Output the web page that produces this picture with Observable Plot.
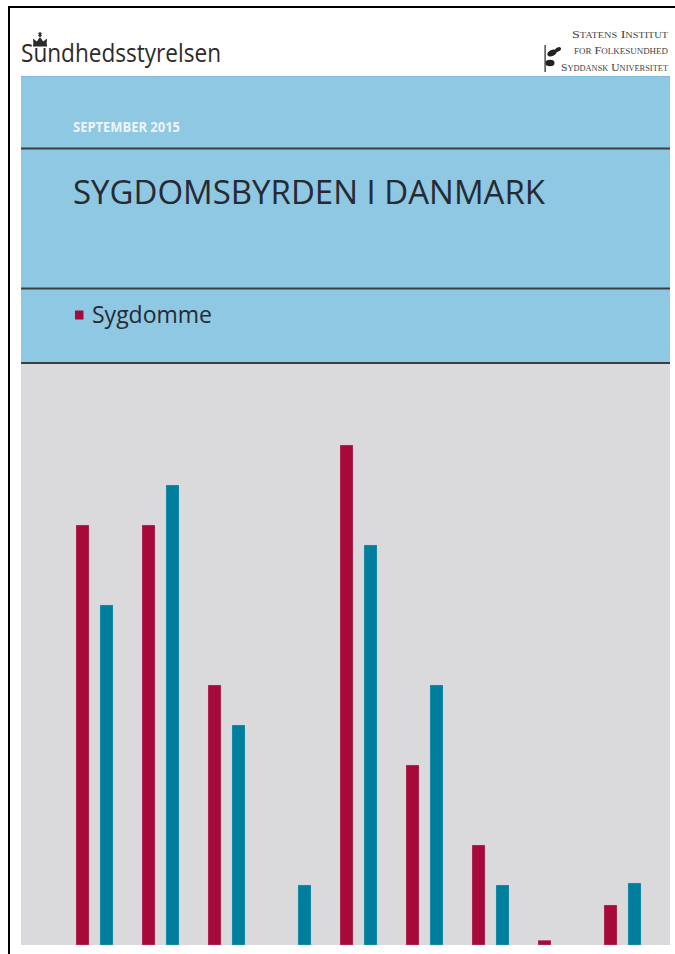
<!DOCTYPE html>
<html>
<head>
<meta charset="utf-8">
<script src="https://cdn.jsdelivr.net/npm/d3@7"></script>
<script src="https://cdn.jsdelivr.net/npm/@observablehq/plot@0.6"></script>
<style>
  html, body { margin: 0; padding: 0; background: #fff; }
  #page { position: relative; width: 675px; height: 954px; overflow: hidden; background: #fff; }
  #header { position: absolute; left: 0; top: 0; }
  #chart { position: absolute; left: 21px; top: 364px; }
  #frameTop { position: absolute; left: 8px; top: 5.5px; width: 667px; height: 2.5px; background: #000; }
  #frameLeft { position: absolute; left: 7.5px; top: 5.5px; width: 2.5px; height: 949px; background: #000; }
</style>
</head>
<body>
<div id="page">
  <svg id="header" width="675" height="364" xmlns="http://www.w3.org/2000/svg">
    <!-- blue panel -->
    <rect x="21" y="76" width="649" height="288" fill="#8EC8E2"/>
    <line x1="21" x2="670" y1="76.5" y2="76.5" stroke="#7fbcd8" stroke-width="1"/>
    <line x1="21" x2="670" y1="148.5" y2="148.5" stroke="#3a3d42" stroke-width="2"/>
    <line x1="21" x2="670" y1="288.5" y2="288.5" stroke="#3a3d42" stroke-width="2"/>
    <line x1="21" x2="670" y1="363" y2="363" stroke="#3a3d42" stroke-width="2"/>
    <!-- Sundhedsstyrelsen logo -->
    <g fill="#2b2b2b">
      <path d="M33.5 45.5 L33 38.5 L36.8 41.5 L40 37 L43.2 41.5 L47 38.5 L46.5 45.5 Z"/>
      <rect x="33" y="44.5" width="14" height="2"/>
      <circle cx="40" cy="35.3" r="1.6"/>
      <rect x="39.4" y="32" width="1.2" height="3"/>
      <rect x="38.3" y="32.9" width="3.4" height="1"/>
    </g>
    <text x="21" y="62" font-family="'Open Sans', Lato, sans-serif" font-size="25" fill="#2b2b2b" textLength="200" lengthAdjust="spacingAndGlyphs">Sundhedsstyrelsen</text>
    <!-- SIF / SDU logo -->
    <g font-family="'Liberation Serif', 'DejaVu Serif', serif" fill="#3f3f3f" style="font-variant: small-caps" text-anchor="end">
      <text x="668" y="38" font-size="11" textLength="96" lengthAdjust="spacingAndGlyphs">Statens Institut</text>
      <text x="668" y="53.5" font-size="11" textLength="94" lengthAdjust="spacingAndGlyphs">for Folkesundhed</text>
      <text x="668" y="71" font-size="11" textLength="107" lengthAdjust="spacingAndGlyphs">Syddansk Universitet</text>
    </g>
    <g fill="#222">
      <rect x="544.5" y="45" width="1.2" height="27"/>
      <ellipse cx="552" cy="53" rx="5" ry="3" transform="rotate(-25 552 53)"/>
      <ellipse cx="558" cy="49.5" rx="3.2" ry="2" transform="rotate(-30 558 49.5)"/>
      <ellipse cx="550" cy="63" rx="4.5" ry="3.2"/>
    </g>
    <!-- texts in panel -->
    <text x="73" y="132" font-family="'Open Sans', Lato, sans-serif" font-weight="700" font-size="13.5" fill="#eef5fa" textLength="107" lengthAdjust="spacingAndGlyphs">SEPTEMBER 2015</text>
    <text x="73" y="204" font-family="'Open Sans', Lato, sans-serif" font-weight="400" font-size="33" fill="#262a33" textLength="472" lengthAdjust="spacingAndGlyphs">SYGDOMSBYRDEN I DANMARK</text>
    <rect x="75" y="310.5" width="8.5" height="9" fill="#A50A3A"/>
    <text x="92" y="323" font-family="'Open Sans', Lato, sans-serif" font-weight="400" font-size="24.5" fill="#262a33" textLength="120" lengthAdjust="spacingAndGlyphs">Sygdomme</text>
  </svg>
  <div id="chart"></div>
  <div id="frameTop"></div>
  <div id="frameLeft"></div>
</div>
<script>
// Chart data
const groups = ["1", "2", "3", "4", "5", "6", "7", "8", "9"];
const redValues = [10.5, 10.5, 6.5, 0, 12.5, 4.5, 2.5, 0.12, 1.0];
const tealValues = [8.5, 11.5, 5.5, 1.5, 10, 6.5, 1.5, 0, 1.55];
const redColor = "#A50A3A";
const tealColor = "#007E9E";

const redData = groups.map((g, i) => ({group: g, value: redValues[i]}));
const tealData = groups.map((g, i) => ({group: g, value: tealValues[i]}));

const chart = Plot.plot({
  width: 649,
  height: 581,
  marginTop: 0,
  marginBottom: 0,
  marginLeft: 30,
  marginRight: 3,
  style: {background: "#DADADC", overflow: "visible"},
  x: {type: "band", domain: groups, paddingInner: 0.8, paddingOuter: 0.5, axis: null},
  y: {domain: [0, 14.525], axis: null},
  marks: [
    Plot.barY(redData, {x: "group", y: "value", fill: redColor, dx: -12, stroke: "#e6b7c4", strokeWidth: 0.5, strokeOpacity: 0.6}),
    Plot.barY(tealData, {x: "group", y: "value", fill: tealColor, dx: 12, stroke: "#9fcbd8", strokeWidth: 0.5, strokeOpacity: 0.6})
  ]
});
document.getElementById("chart").appendChild(chart);
</script>
</body>
</html>
